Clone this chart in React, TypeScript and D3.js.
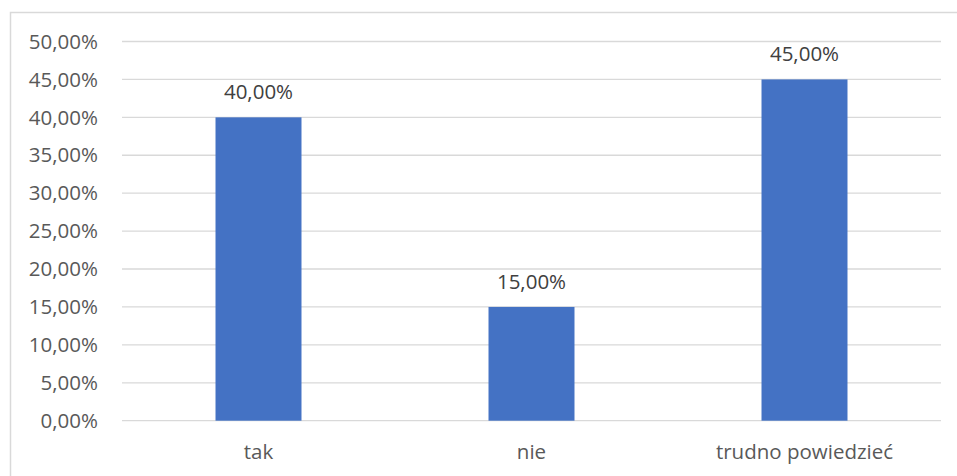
import React from "react";
import * as d3 from "d3";

const categories = ["tak", "nie", "trudno powiedzieć"];
const values = [0.4, 0.15, 0.45];
const yTicks = [0, 0.05, 0.1, 0.15, 0.2, 0.25, 0.3, 0.35, 0.4, 0.45, 0.5];

const W = 957;
const H = 476;
const margin = { left: 122, right: 16, top: 41.5, bottom: 55.3 };

const fmt = (v: number) => (v * 100).toFixed(2).replace(".", ",") + "%";

export default function App() {
  const x = d3
    .scaleBand<string>()
    .domain(categories)
    .range([margin.left, W - margin.right])
    .paddingInner(0.685)
    .paddingOuter(0.3425);
  const y = d3
    .scaleLinear()
    .domain([0, 0.5])
    .range([H - margin.bottom, margin.top]);
  const font = "'Open Sans', 'Liberation Sans', sans-serif";
  return (
    <svg
      width={W}
      height={H}
      style={{ position: "absolute", left: 0, top: 0, background: "#fff" }}
    >
      <rect x={10.5} y={12.5} width={960} height={480} fill="#fff" stroke="#d9d9d9" strokeWidth={1.5} />
      {yTicks.map((t) => (
        <g key={t}>
          <line
            x1={margin.left}
            x2={W - margin.right}
            y1={y(t)}
            y2={y(t)}
            stroke="#d9d9d9"
            strokeWidth={1.3}
          />
          <text
            x={98}
            y={y(t)}
            dy="0.35em"
            textAnchor="end"
            fontFamily={font}
            fontSize={20.5}
            fill="#595959"
          >
            {fmt(t)}
          </text>
        </g>
      ))}
      {categories.map((c, i) => (
        <g key={c}>
          <rect
            x={x(c)}
            y={y(values[i])}
            width={x.bandwidth()}
            height={y(0) - y(values[i])}
            fill="#4472C4"
          />
          <text
            x={(x(c) as number) + x.bandwidth() / 2}
            y={y(values[i]) - 18}
            textAnchor="middle"
            fontFamily={font}
            fontSize={20.5}
            fill="#404040"
          >
            {fmt(values[i])}
          </text>
          <text
            x={(x(c) as number) + x.bandwidth() / 2}
            y={459}
            textAnchor="middle"
            fontFamily={font}
            fontSize={20.5}
            fill="#595959"
          >
            {c}
          </text>
        </g>
      ))}
    </svg>
  );
}
